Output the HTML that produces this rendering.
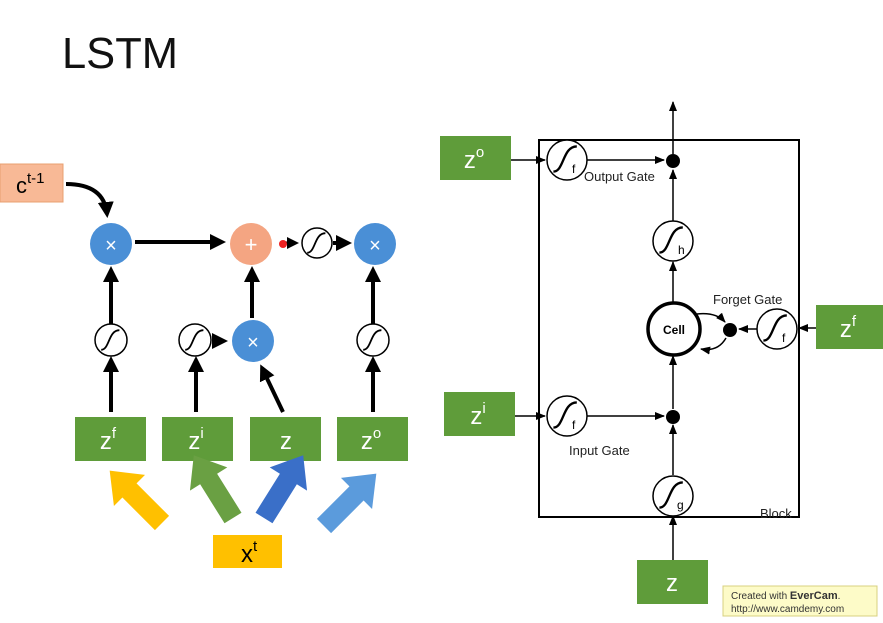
<!DOCTYPE html>
<html><head><style>
body{margin:0;background:#fff;}
svg{display:block;font-family:"Liberation Sans",sans-serif;}
</style></head><body>
<svg width="883" height="623" viewBox="0 0 883 623">
<defs>
<marker id="ab" markerWidth="4" markerHeight="4" refX="3" refY="2" orient="auto" markerUnits="strokeWidth"><path d="M0,0 L4,2 L0,4z" fill="#000"/></marker>
<marker id="as" markerWidth="10" markerHeight="8" refX="9" refY="4" orient="auto" markerUnits="userSpaceOnUse"><path d="M0,0 L10,4 L0,8z" fill="#000"/></marker>
<symbol id="sig" viewBox="-10 -10 20 20"><path d="M-7,7 C-1,7 -2,-7 6,-7" fill="none" stroke="#000" stroke-width="1.3"/></symbol>
<path id="fat" d="M0,-10 L46,-10 L46,-22 L74,0 L46,22 L46,10 L0,10z"/>
</defs>
<text x="62" y="68" font-size="44" fill="#111" textLength="116" lengthAdjust="spacingAndGlyphs" style="font-weight:300">LSTM</text>

<!-- left diagram -->
<rect x="0" y="164" width="63" height="38" fill="#f8b996" stroke="#e8a070"/>
<text x="16" y="193" font-size="22">c<tspan font-size="15" dy="-10">t-1</tspan></text>
<path d="M66,184 Q104,184 107,214" fill="none" stroke="#000" stroke-width="4" marker-end="url(#ab)"/>
<g stroke="#000" stroke-width="4" fill="none" marker-end="url(#ab)">
<line x1="135" y1="242" x2="222" y2="242"/>
<line x1="111" y1="324" x2="111" y2="270"/>
<line x1="111" y1="412" x2="111" y2="360"/>
<line x1="196" y1="412" x2="196" y2="360"/>
<line x1="252" y1="318" x2="252" y2="270"/>
<line x1="283" y1="412" x2="262" y2="368"/>
<line x1="373" y1="324" x2="373" y2="270"/>
<line x1="373" y1="412" x2="373" y2="360"/>
<line x1="213" y1="341" x2="224" y2="341"/>
<line x1="333" y1="243" x2="348" y2="243"/>
<line x1="280" y1="243" x2="296" y2="243" stroke-width="3"/>
</g>
<circle cx="111" cy="244" r="21" fill="#4a8fd6"/><text x="111" y="252" font-size="20" fill="#fff" text-anchor="middle">×</text>
<circle cx="251" cy="244" r="21" fill="#f4a582"/><text x="251" y="252" font-size="22" fill="#fff" text-anchor="middle">+</text>
<circle cx="283" cy="244" r="4" fill="#e22"/>
<circle cx="317" cy="243" r="15" fill="#fff" stroke="#000" stroke-width="1.5"/><use href="#sig" x="303" y="229" width="28" height="28"/>
<circle cx="375" cy="244" r="21" fill="#4a8fd6"/><text x="375" y="252" font-size="20" fill="#fff" text-anchor="middle">×</text>
<circle cx="111" cy="340" r="16" fill="#fff" stroke="#000" stroke-width="1.5"/><use href="#sig" x="97" y="326" width="28" height="28"/>
<circle cx="195" cy="340" r="16" fill="#fff" stroke="#000" stroke-width="1.5"/><use href="#sig" x="181" y="326" width="28" height="28"/>
<circle cx="253" cy="341" r="21" fill="#4a8fd6"/><text x="253" y="349" font-size="20" fill="#fff" text-anchor="middle">×</text>
<circle cx="373" cy="340" r="16" fill="#fff" stroke="#000" stroke-width="1.5"/><use href="#sig" x="359" y="326" width="28" height="28"/>
<g fill="#5f9c3a">
<rect x="75" y="417" width="71" height="44"/><rect x="162" y="417" width="71" height="44"/>
<rect x="250" y="417" width="71" height="44"/><rect x="337" y="417" width="71" height="44"/>
</g>
<g fill="#fff" font-size="24" text-anchor="middle">
<text x="108" y="449">z<tspan font-size="15" dy="-11">f</tspan></text>
<text x="196" y="449">z<tspan font-size="15" dy="-11">i</tspan></text>
<text x="286" y="449">z</text>
<text x="371" y="449">z<tspan font-size="15" dy="-11">o</tspan></text>
</g>
<use href="#fat" fill="#ffc000" transform="translate(162,523) rotate(-135)"/>
<use href="#fat" fill="#6aa043" transform="translate(233,518) rotate(-122)"/>
<use href="#fat" fill="#3a6fc8" transform="translate(264,518) rotate(-58)"/>
<use href="#fat" fill="#5b9bdc" transform="translate(324,526) rotate(-45)"/>
<rect x="213" y="535" width="69" height="33" fill="#ffc000"/>
<text x="241" y="562" font-size="24">x<tspan font-size="15" dy="-11">t</tspan></text>

<!-- right diagram -->
<rect x="539" y="140" width="260" height="377" fill="none" stroke="#000" stroke-width="2"/>
<g stroke="#000" stroke-width="1.5" fill="none" marker-end="url(#as)">
<line x1="673" y1="154" x2="673" y2="102"/>
<line x1="511" y1="160" x2="545" y2="160"/>
<line x1="587" y1="160" x2="664" y2="160"/>
<line x1="673" y1="221" x2="673" y2="170"/>
<line x1="673" y1="302" x2="673" y2="262"/>
<line x1="673" y1="409" x2="673" y2="356"/>
<line x1="673" y1="475" x2="673" y2="425"/>
<line x1="673" y1="560" x2="673" y2="516"/>
<line x1="515" y1="416" x2="545" y2="416"/>
<line x1="587" y1="416" x2="664" y2="416"/>
<line x1="816" y1="328" x2="799" y2="328"/>
<line x1="757" y1="329" x2="739" y2="329"/>
<path d="M697,314 Q716,312 725,322"/>
<path d="M726,338 Q718,352 701,349"/>
</g>
<circle cx="567" cy="160" r="20" fill="#fff" stroke="#000" stroke-width="1.5"/><use href="#sig" x="548" y="141" width="36" height="36"/><text x="572" y="173" font-size="12">f</text>
<circle cx="673" cy="161" r="7" fill="#000"/>
<text x="584" y="181" font-size="13" fill="#222">Output Gate</text>
<circle cx="673" cy="241" r="20" fill="#fff" stroke="#000" stroke-width="1.5"/><use href="#sig" x="654" y="222" width="36" height="36"/><text x="678" y="254" font-size="12">h</text>
<circle cx="674" cy="329" r="26" fill="#fff" stroke="#000" stroke-width="3.5"/><text x="674" y="334" font-size="12" font-weight="bold" text-anchor="middle">Cell</text>
<circle cx="730" cy="330" r="7" fill="#000"/>
<text x="713" y="304" font-size="13" fill="#222">Forget Gate</text>
<circle cx="777" cy="329" r="20" fill="#fff" stroke="#000" stroke-width="1.5"/><use href="#sig" x="758" y="310" width="36" height="36"/><text x="782" y="342" font-size="12">f</text>
<circle cx="567" cy="416" r="20" fill="#fff" stroke="#000" stroke-width="1.5"/><use href="#sig" x="548" y="397" width="36" height="36"/><text x="572" y="429" font-size="12">f</text>
<circle cx="673" cy="417" r="7" fill="#000"/>
<text x="569" y="455" font-size="13" fill="#222">Input Gate</text>
<circle cx="673" cy="496" r="20" fill="#fff" stroke="#000" stroke-width="1.5"/><use href="#sig" x="654" y="477" width="36" height="36"/><text x="677" y="509" font-size="12">g</text>
<text x="760" y="518" font-size="13" fill="#222">Block</text>
<g fill="#5f9c3a">
<rect x="440" y="136" width="71" height="44"/><rect x="816" y="305" width="67" height="44"/>
<rect x="444" y="392" width="71" height="44"/><rect x="637" y="560" width="71" height="44"/>
</g>
<g fill="#fff" font-size="24" text-anchor="middle">
<text x="474" y="168">z<tspan font-size="15" dy="-11">o</tspan></text>
<text x="848" y="337">z<tspan font-size="15" dy="-11">f</tspan></text>
<text x="478" y="424">z<tspan font-size="15" dy="-11">i</tspan></text>
<text x="672" y="591">z</text>
</g>
<rect x="723" y="586" width="154" height="30" fill="#fdfbc8" stroke="#d8d080"/>
<text x="731" y="599" font-size="10" fill="#333">Created with <tspan font-weight="bold" font-size="11">EverCam</tspan>.</text>
<text x="731" y="612" font-size="10" fill="#333">http://www.camdemy.com</text>
</svg>
</body></html>
